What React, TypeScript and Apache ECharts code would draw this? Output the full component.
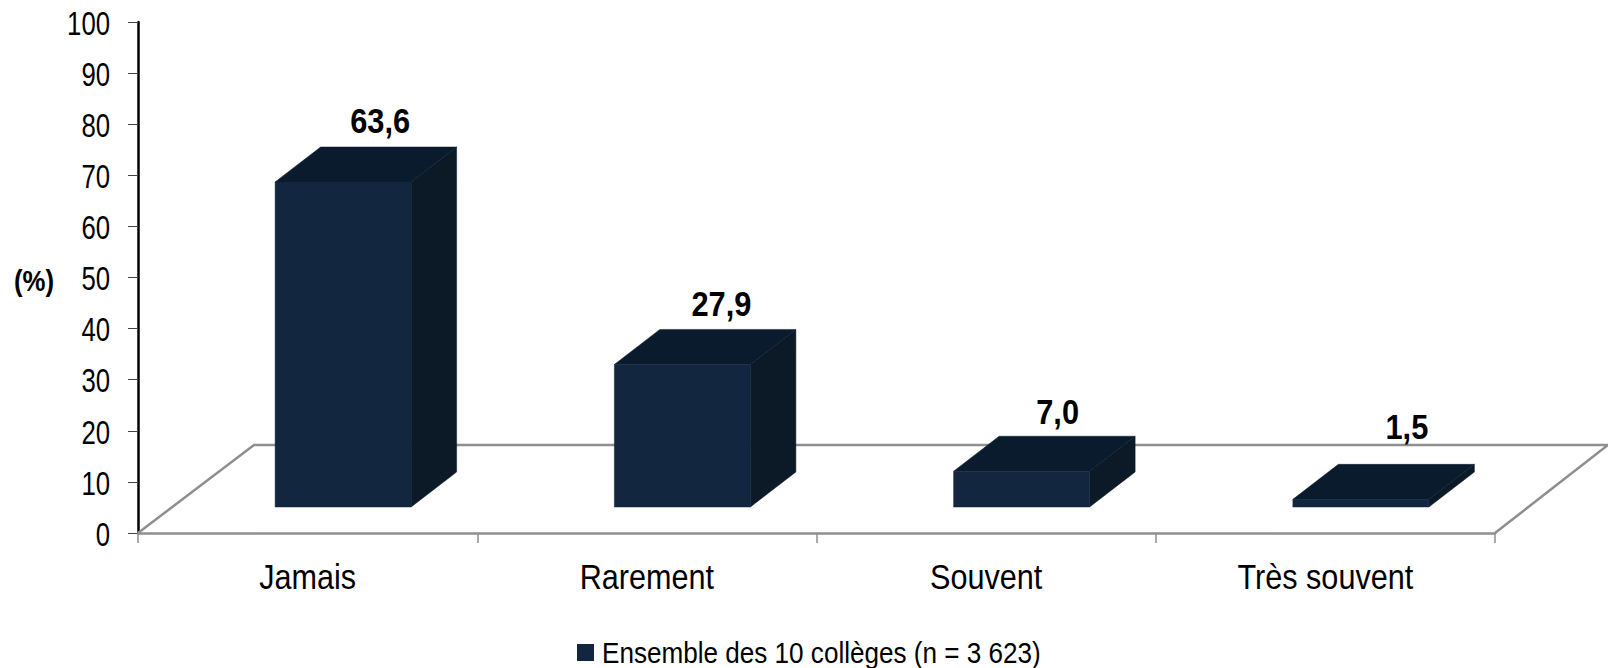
import React, { useEffect, useRef } from "react";
import * as echarts from "echarts";

const categories = ["Jamais", "Rarement", "Souvent", "Très souvent"];
const values = [63.6, 27.9, 7.0, 1.5];
const valueLabels = ["63,6", "27,9", "7,0", "1,5"];
const yTicks = [0, 10, 20, 30, 40, 50, 60, 70, 80, 90, 100];
const seriesName = "Ensemble des 10 collèges (n = 3 623)";
const axisTitle = "(%)";

const FONT = "'Liberation Sans', Arial, sans-serif";
const FRONT = "#12263f";
const TOP = "#0b1b2e";
const SIDE = "#0c1a28";
const FLOOR = "#8f8f8f";
const labelRaise = [26, 26, 24, 38];
const labelShift = [37, 39, 36, 46];

export default function App() {
  const ref = useRef<HTMLDivElement>(null);
  useEffect(() => {
    const chart = echarts.init(ref.current!, undefined, { renderer: "svg" });
    const DX = 45.5;
    const DY = 35;
    const BASE_LIFT = 26;
    const BAR_SHIFT = 35.5;
    const BAR_W = 136;
    const face = (fill: string) => ({ fill, stroke: fill, lineWidth: 0.5 });
    chart.setOption({
      animation: false,
      backgroundColor: "#fff",
      grid: { left: 138, right: 113, top: 22, bottom: 135 },
      xAxis: {
        type: "category",
        data: categories,
        axisLine: { lineStyle: { color: FLOOR, width: 2.5 } },
        axisTick: { show: true, length: 10, lineStyle: { color: FLOOR, width: 1.5 } },
        axisLabel: { show: false },
      },
      yAxis: {
        type: "value",
        min: yTicks[0],
        max: yTicks[yTicks.length - 1],
        interval: 10,
        splitLine: { show: false },
        axisLine: { show: true, lineStyle: { color: "#000", width: 2.5 } },
        axisTick: { show: true, length: 10, lineStyle: { color: "#444", width: 1 } },
        axisLabel: { show: false },
      },
      legend: {
        show: true,
        data: [seriesName],
        left: 577,
        top: 644,
        padding: 0,
        itemWidth: 17,
        itemHeight: 17,
        icon: "rect",
        formatter: () => "",
      },
      graphic: [
        {
          type: "text",
          x: 34,
          y: 281,
          scaleX: 0.86,
          style: { text: axisTitle, fill: "#000", font: `bold 30px ${FONT}`, align: "center", verticalAlign: "middle" },
        },
        {
          type: "text",
          x: 602,
          y: 653,
          scaleX: 0.9,
          style: { text: seriesName, fill: "#000", font: `29px ${FONT}`, align: "left", verticalAlign: "middle" },
        },
      ],
      series: [
        {
          type: "custom",
          name: "floor",
          silent: true,
          z: 1,
          data: [[0, 0]],
          renderItem: (params: any) => {
            const c = params.coordSys;
            const d = 113;
            const h = 88;
            const x0 = c.x;
            const x1 = c.x + c.width;
            const y = c.y + c.height;
            return {
              type: "polyline",
              shape: { points: [[x0, y], [x0 + d + 3, y - h], [x1 + d, y - h], [x1, y]] },
              style: { fill: "none", stroke: FLOOR, lineWidth: 2.5 },
            };
          },
        },
        {
          type: "custom",
          name: "yLabels",
          silent: true,
          z: 2,
          data: yTicks.map((v) => [0, v]),
          renderItem: (params: any, api: any) => {
            const v = yTicks[params.dataIndex];
            const p = api.coord([0, v]);
            return {
              type: "text",
              x: params.coordSys.x - 28,
              y: p[1] + 1,
              scaleX: 0.78,
              style: { text: String(v), fill: "#000", font: `33px ${FONT}`, align: "right", verticalAlign: "middle" },
            };
          },
        },
        {
          type: "custom",
          name: "xLabels",
          silent: true,
          z: 2,
          data: categories.map((_, i) => [i, 0]),
          renderItem: (params: any, api: any) => {
            const p = api.coord([params.dataIndex, 0]);
            return {
              type: "text",
              x: p[0],
              y: p[1] + 44,
              scaleX: 0.85,
              style: { text: categories[params.dataIndex], fill: "#000", font: `36px ${FONT}`, align: "center", verticalAlign: "middle" },
            };
          },
        },
        {
          type: "custom",
          name: seriesName,
          z: 3,
          itemStyle: { color: FRONT },
          data: values.map((v, i) => [i, v]),
          encode: { x: 0, y: 1 },
          renderItem: (params: any, api: any) => {
            const i = api.value(0);
            const v = api.value(1);
            const top = api.coord([i, v]);
            const bottom = api.coord([i, 0]);
            const l = top[0] + BAR_SHIFT - BAR_W / 2;
            const r = l + BAR_W;
            const yT = top[1] - BASE_LIFT;
            const yB = bottom[1] - BASE_LIFT;
            return {
              type: "group",
              children: [
                {
                  type: "polygon",
                  shape: { points: [[r, yT], [r + DX, yT - DY], [r + DX, yB - DY], [r, yB]] },
                  style: face(SIDE),
                },
                {
                  type: "polygon",
                  shape: { points: [[l, yT], [l + DX, yT - DY], [r + DX, yT - DY], [r, yT]] },
                  style: face(TOP),
                },
                {
                  type: "rect",
                  shape: { x: l, y: yT, width: BAR_W, height: yB - yT },
                  style: face(FRONT),
                },
                {
                  type: "text",
                  x: l + BAR_W / 2 + labelShift[i],
                  y: yT - DY - labelRaise[i],
                  scaleX: 0.88,
                  style: {
                    text: valueLabels[i],
                    fill: "#000",
                    font: `bold 35px ${FONT}`,
                    align: "center",
                    verticalAlign: "middle",
                  },
                },
              ],
            };
          },
        },
      ],
    });
    return () => chart.dispose();
  }, []);
  return <div ref={ref} style={{ position: "fixed", left: 0, top: 0, width: 1608, height: 668 }} />;
}
